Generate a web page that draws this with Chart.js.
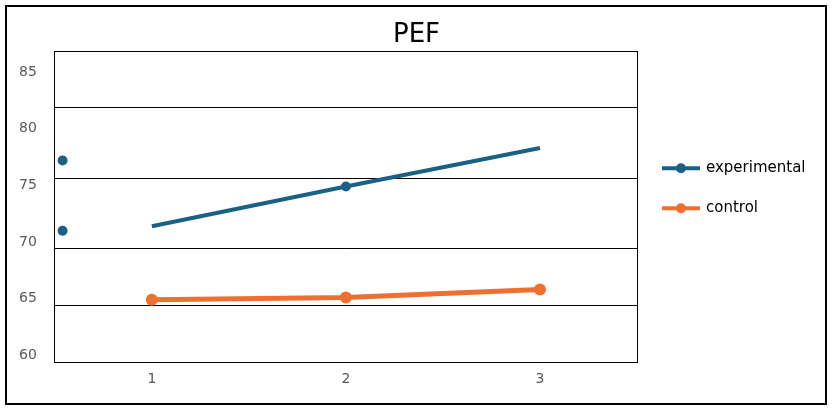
<!DOCTYPE html>
<html>
<head>
<meta charset="utf-8">
<script src="https://cdn.jsdelivr.net/npm/chart.js@4.4.1/dist/chart.umd.min.js"></script>
<style>
    html, body { margin: 0; padding: 0; background: #fff; }
    #marco { position: absolute; left: 5px; top: 5px; width: 822px; height: 400px; border: 2px solid #000; box-sizing: border-box; }
    #contenedor { position: absolute; left: 0; top: 0; width: 832px; height: 409px; }
</style>
</head>
<body>
<div id="marco"></div>
<div id="contenedor"><canvas id="graficoPEF" width="832" height="409"></canvas></div>
<script>
// Datos
const categorias = [1, 2, 3];
const experimental = [71.4, 74.9, 78.3];
const control = [64.9, 65.1, 65.8];
// puntos sueltos de "experimental" pegados al eje izquierdo
const sueltosX = [0.54, 0.54];
const sueltosY = [77.2, 71.0];
const etiquetasY = [60, 65, 70, 75, 80, 85];
const lineasGuia = [59.38, 64.42, 69.45, 75.64, 81.91, 86.86];

document.addEventListener('DOMContentLoaded', function() {
    const ctx = document.getElementById('graficoPEF').getContext('2d');
    const fuente = 'DejaVu Sans';

    // Leyenda dibujada a mano: línea con marcador y texto
    const leyendaPEF = {
        id: 'leyendaPEF',
        afterDraw(chart) {
            const c = chart.ctx;
            const area = chart.chartArea;
            const items = chart.data.datasets.filter(d => d.enLeyenda);
            items.forEach((d, i) => {
                const x0 = area.right + 25;
                const y = area.top + 117 + i * 40;
                c.save();
                c.strokeStyle = d.borderColor;
                c.lineWidth = 4;
                c.beginPath();
                c.moveTo(x0, y);
                c.lineTo(x0 + 38, y);
                c.stroke();
                c.fillStyle = d.borderColor;
                c.beginPath();
                c.arc(x0 + 19, y, 5, 0, Math.PI * 2);
                c.fill();
                c.fillStyle = '#000';
                c.font = '15px "' + fuente + '"';
                c.textBaseline = 'middle';
                c.fillText(d.label, x0 + 44, y);
                c.restore();
            });
        }
    };

    new Chart(ctx, {
        type: 'line',
        data: {
            datasets: [{
                label: 'experimental',
                enLeyenda: true,
                data: categorias.map((c, i) => ({ x: c, y: experimental[i] })),
                borderColor: '#1A6186',
                backgroundColor: '#1A6186',
                borderWidth: 4,
                pointRadius: [0, 5, 0],
                pointHoverRadius: [0, 5, 0],
                pointBorderWidth: 0,
                yAxisID: 'y'
            }, {
                label: 'control',
                enLeyenda: true,
                data: categorias.map((c, i) => ({ x: c, y: control[i] })),
                borderColor: '#EE7030',
                backgroundColor: '#EE7030',
                borderWidth: 5,
                pointRadius: 6,
                pointBorderWidth: 0,
                yAxisID: 'y'
            }, {
                label: 'experimental (sueltos)',
                enLeyenda: false,
                data: sueltosX.map((x, i) => ({ x: x, y: sueltosY[i] })),
                showLine: false,
                borderColor: '#1A6186',
                backgroundColor: '#1A6186',
                pointRadius: 5,
                pointBorderWidth: 0,
                yAxisID: 'y'
            }]
        },
        options: {
            responsive: false,
            animation: false,
            layout: { padding: { left: 1, right: 0, top: 0, bottom: 12 } },
            plugins: {
                legend: { display: false },
                tooltip: { enabled: false },
                title: {
                    display: true,
                    text: 'PEF',
                    color: '#000',
                    font: { family: fuente, size: 26, weight: 'normal' },
                    padding: { top: 20, bottom: 0 }
                }
            },
            scales: {
                x: {
                    type: 'linear',
                    min: 0.5,
                    max: 3.5,
                    afterBuildTicks: axis => { axis.ticks = categorias.map(v => ({ value: v })); },
                    grid: { display: false, drawTicks: false },
                    border: { display: true, color: '#000', width: 1 },
                    ticks: { color: '#595959', padding: 9, font: { family: fuente, size: 14 } }
                },
                y: {
                    type: 'linear',
                    position: 'left',
                    min: 59.38,
                    max: 86.86,
                    afterBuildTicks: axis => { axis.ticks = etiquetasY.map(v => ({ value: v })); },
                    grid: { display: false, drawTicks: false },
                    border: { display: true, color: '#000', width: 1 },
                    ticks: { color: '#595959', padding: 18, font: { family: fuente, size: 14 } }
                },
                y2: {
                    type: 'linear',
                    position: 'right',
                    min: 59.38,
                    max: 86.86,
                    afterBuildTicks: axis => { axis.ticks = lineasGuia.map(v => ({ value: v })); },
                    afterFit: axis => { axis.width = 195; },
                    grid: { color: '#000', lineWidth: 1, drawTicks: false },
                    border: { display: true, color: '#000', width: 1 },
                    ticks: { display: false }
                }
            }
        },
        plugins: [leyendaPEF]
    });
});
</script>
</body>
</html>
